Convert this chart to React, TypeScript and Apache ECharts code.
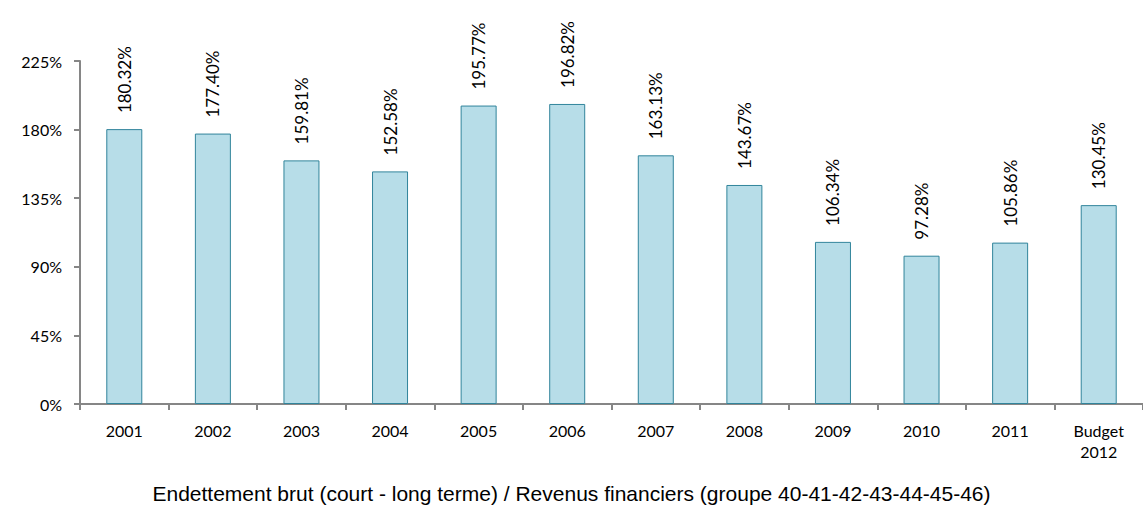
import React, { useEffect, useRef } from "react";
import * as echarts from "echarts";

const categories = ["2001", "2002", "2003", "2004", "2005", "2006", "2007", "2008", "2009", "2010", "2011", "Budget\n2012"];
const values = [180.32, 177.40, 159.81, 152.58, 195.77, 196.82, 163.13, 143.67, 106.34, 97.28, 105.86, 130.45];
const yTicks = { min: 0, max: 225, interval: 45 };
const title = "Endettement brut (court - long terme) / Revenus financiers (groupe 40-41-42-43-44-45-46)";

export default function App() {
  const ref = useRef<HTMLDivElement>(null);
  useEffect(() => {
    document.body.style.margin = "0";
    const chart = echarts.init(ref.current!, null, { renderer: "svg" });
    chart.setOption({
      animation: false,
      backgroundColor: "#ffffff",
      title: {
        text: title,
        left: "center",
        top: 483,
        padding: 0,
        textStyle: { fontFamily: "Liberation Sans", fontSize: 21, fontWeight: "normal", color: "#000" },
      },
      grid: { left: 80, top: 61, bottom: 107, width: 1070 },
      xAxis: {
        type: "category",
        data: categories,
        axisLine: { lineStyle: { color: "#868686", width: 2 } },
        axisTick: { show: true, alignWithLabel: false, length: 6, lineStyle: { color: "#868686", width: 2 } },
        axisLabel: { color: "#000", fontFamily: "Lato", fontSize: 16, margin: 16, lineHeight: 21 },
      },
      yAxis: {
        type: "value",
        min: yTicks.min,
        max: yTicks.max,
        interval: yTicks.interval,
        splitLine: { show: false },
        axisLine: { show: true, lineStyle: { color: "#868686", width: 2 } },
        axisTick: { show: true, length: 6, lineStyle: { color: "#868686", width: 2 } },
        axisLabel: { color: "#000", fontFamily: "Lato", fontSize: 16, margin: 18, formatter: (v: number) => v + "%" },
      },
      series: [
        {
          type: "bar",
          data: values,
          barWidth: 36,
          itemStyle: { color: "#b7dde8", borderColor: "#31849b", borderWidth: 1 },
          label: {
            show: true,
            position: "top",
            rotate: 90,
            align: "left",
            verticalAlign: "middle",
            distance: 16,
            color: "#000",
            fontFamily: "Lato",
            fontSize: 17,
            formatter: (p: any) => p.value.toFixed(2) + "%",
          },
        },
      ],
    });
    return () => chart.dispose();
  }, []);
  return <div ref={ref} style={{ width: 1143, height: 511 }} />;
}
